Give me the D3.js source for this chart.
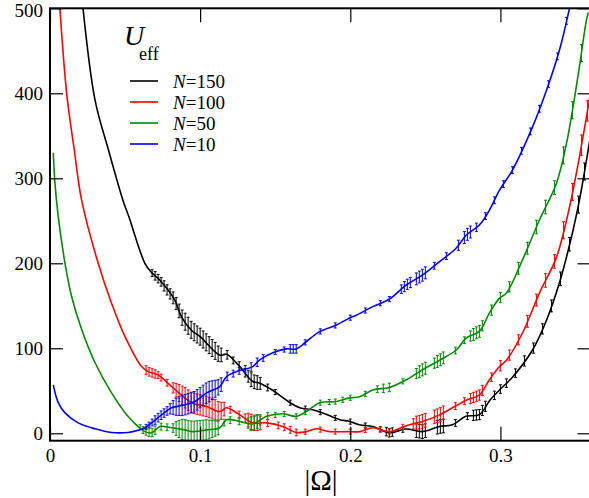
<!DOCTYPE html>
<html><head><meta charset="utf-8">
<script src="https://cdn.jsdelivr.net/npm/d3@7"></script>
<style>
body{margin:0;background:#fff}
svg{display:block}
svg text{font-family:'Liberation Serif','Tinos','Times New Roman','DejaVu Serif',serif;fill:#000}
</style>
</head><body>
<svg id="chart" width="589" height="498"></svg>
<script>
// ---------- data ----------
const seriesLabels = ["150", "100", "50", "10"];
const seriesColors = ["#000000", "#ff0000", "#008b00", "#0000ff"];

const omega150 = [0.022,0.030,0.039,0.0486,0.0525,0.0632,0.0677,0.0732,0.083,0.0876,0.0943,0.0998,0.113,0.1176,0.1264,0.135,0.1397,0.148,0.16,0.1663,0.175,0.1816,0.193,0.1996,0.206,0.215,0.226,0.237,0.248,0.2595,0.268,0.277,0.286,0.293,0.2994,0.308,0.3214,0.3307,0.3393,0.348,0.3526,0.3573,0.36];
const u150     = [500,392,333,274,255,200,189,180,157,137,121,114,92,93,78.5,61,59,51,36,30,27.6,24,16,14,10,8,0.6,5,2,8,10,20,22,39,51,66,98,133,177,236,274,321,350];

const omega100 = [0.0066,0.0111,0.0162,0.0211,0.0321,0.041,0.0499,0.061,0.0654,0.0719,0.081,0.0876,0.0943,0.1043,0.1131,0.1176,0.1264,0.135,0.1442,0.155,0.164,0.1708,0.1774,0.1863,0.1974,0.2063,0.215,0.2262,0.2373,0.248,0.2595,0.268,0.2772,0.286,0.2927,0.2994,0.304,0.3147,0.326,0.3373,0.346,0.3526,0.3573,0.36];
const u100     = [500,400,333,274,200,153,114,78.5,72.6,68.7,55,45,36,31.5,25.6,30,21.7,12.3,12.3,8,1,2,5.3,2,2,2,6.5,2,9,14,21.7,30,39,45,63,78.5,86,118,165,207,266,325,372,400];

const omega50 = [0.0022,0.0033,0.0055,0.010,0.0144,0.0211,0.030,0.041,0.0521,0.0632,0.0677,0.0732,0.081,0.0898,0.0951,0.1043,0.1131,0.1176,0.1264,0.135,0.1442,0.155,0.164,0.1708,0.1796,0.1908,0.1996,0.2063,0.215,0.2262,0.2373,0.248,0.2595,0.2706,0.2772,0.286,0.2927,0.2994,0.304,0.3147,0.326,0.3373,0.344,0.348,0.3526,0.3573,0.3586];
const u50     = [330,294,255,200,161,122,83,47.6,19.7,2,0.6,8,6.5,4,2,4,6.5,16,14,11,20,23,20,25.6,36,37.4,41.7,43,51,54,63,74.6,86,98,112,120,141.6,159,165,204,251,294,341,380,431,486,495];

const omega10 = [0.0022,0.0055,0.010,0.0188,0.030,0.041,0.0521,0.0587,0.0632,0.0677,0.0743,0.081,0.0898,0.0965,0.1043,0.1131,0.1176,0.1264,0.135,0.1397,0.148,0.1575,0.1641,0.1708,0.1796,0.1908,0.1996,0.204,0.215,0.2262,0.2373,0.248,0.2595,0.2706,0.2772,0.286,0.2927,0.2994,0.308,0.3214,0.3307,0.3393,0.346];
const u10     = [57,36,24,12.3,5.3,1,1,3.5,6.5,12.3,21.7,30,33.5,37.4,47.6,55,66.7,73.8,78.5,86.4,94.6,99.3,99.3,108,119.6,127.5,135.7,139,149,158,174.5,186,202,218,233,245,262.6,286,309.6,360.5,403.6,450.6,500];

// error bars: positions (|Omega|) and half-heights
const errOmega150 = [0.068,0.070,0.072,0.074,0.076,0.078,0.080,0.082,0.084,0.086,0.088,0.090,0.092,0.094,0.096,0.098,0.100,0.102,0.104,0.106,0.108,0.110,0.112,0.114,0.118,0.122,0.126,0.130,0.132,0.134,0.136,0.138,0.140,0.145,0.150,0.160,0.170,0.180,0.190,0.200,0.210,0.220,0.224,0.226,0.228,0.235,0.244,0.246,0.248,0.250,0.258,0.260,0.262,0.270,0.278,0.282,0.284,0.286,0.288,0.290,0.296,0.300,0.304,0.310,0.316,0.322,0.328,0.334,0.340,0.346,0.352,0.356];
const errHalf150  = [4,5,5,5,6,6,6,7,7,8,9,10,10,10,10,10,10,10,10,10,10,10,9,8,5,4,5,5,7,8,8,8,7,4,3,3,3,3,3,3,3,3,5,5,5,3,8,8,8,8,8,8,8,4,4,6,6,6,6,6,5,5,5,5,6,6,6,7,8,8,10,10];

const errOmega100 = [0.064,0.066,0.068,0.070,0.072,0.074,0.078,0.082,0.084,0.086,0.088,0.090,0.092,0.094,0.096,0.098,0.100,0.102,0.104,0.106,0.108,0.110,0.112,0.114,0.116,0.120,0.126,0.130,0.132,0.134,0.136,0.138,0.140,0.145,0.152,0.156,0.160,0.164,0.170,0.180,0.190,0.200,0.210,0.220,0.226,0.235,0.242,0.244,0.246,0.248,0.250,0.256,0.258,0.260,0.262,0.270,0.276,0.280,0.282,0.284,0.286,0.288,0.294,0.300,0.306,0.312,0.318,0.324,0.330,0.336,0.342,0.348,0.354,0.358];
const errHalf100  = [5,5,5,5,4,4,4,6,8,10,11,12,12,12,12,12,12,12,12,12,12,12,11,10,8,4,4,5,8,9,9,9,8,4,4,4,4,4,3,3,3,3,3,3,3,3,6,8,8,8,8,8,8,8,8,4,4,6,6,6,6,6,5,6,6,6,7,7,8,8,10,10,12,12];

const errOmega50 = [0.060,0.062,0.064,0.066,0.068,0.070,0.074,0.078,0.082,0.084,0.086,0.088,0.090,0.092,0.094,0.096,0.098,0.100,0.102,0.104,0.106,0.108,0.110,0.112,0.116,0.120,0.126,0.132,0.134,0.136,0.138,0.140,0.145,0.150,0.156,0.164,0.170,0.180,0.186,0.190,0.195,0.200,0.210,0.218,0.222,0.226,0.235,0.244,0.246,0.248,0.250,0.256,0.258,0.260,0.262,0.270,0.276,0.280,0.282,0.284,0.286,0.288,0.294,0.300,0.306,0.312,0.318,0.324,0.330,0.336,0.342,0.348,0.354];
const errHalf50  = [3,4,4,5,5,5,4,4,5,8,10,12,12,12,12,12,12,12,12,12,11,10,9,8,4,4,4,6,8,8,8,6,4,3,3,3,3,3,3,3,3,3,3,4,5,5,3,6,7,7,7,6,7,7,7,4,4,6,7,7,7,6,6,6,6,7,7,8,8,8,10,10,10];

const errOmega10 = [0.064,0.066,0.068,0.070,0.072,0.074,0.076,0.078,0.080,0.082,0.084,0.086,0.088,0.090,0.092,0.094,0.096,0.098,0.100,0.102,0.104,0.106,0.108,0.110,0.112,0.114,0.118,0.122,0.126,0.130,0.134,0.138,0.142,0.150,0.156,0.160,0.162,0.164,0.170,0.180,0.190,0.200,0.210,0.220,0.226,0.234,0.236,0.238,0.240,0.244,0.246,0.248,0.250,0.256,0.264,0.272,0.276,0.278,0.280,0.284,0.290,0.296,0.302,0.308,0.314,0.320,0.326,0.332,0.338,0.344];
const errHalf10  = [3,3,4,5,5,5,5,5,6,8,10,11,12,12,12,12,12,12,12,12,12,12,11,10,9,8,5,4,4,4,5,5,4,3,3,5,5,5,3,3,3,3,3,3,3,5,6,6,6,7,7,7,7,4,4,6,7,7,7,5,4,4,4,4,4,4,4,4,4,4];

const xTicks = [0, 0.1, 0.2, 0.3];
const yTicks = [0, 100, 200, 300, 400, 500];

// ---------- layout ----------
const FONT = "'Liberation Serif','Tinos','Times New Roman','DejaVu Serif',serif";
const svg = d3.select("#chart");
const L = 50, R = 590.5, T = 8.3, B = 440.7;
const x = d3.scaleLinear().domain([0, 0.36]).range([L, R]);
const y = d3.scaleLinear().domain([-8.7, 500]).range([B, T]);

svg.append("defs").append("clipPath").attr("id", "clip")
  .append("rect").attr("x", L).attr("y", T).attr("width", R - L).attr("height", B - T);

const series = [
  {o: omega150, u: u150, eo: errOmega150, eh: errHalf150},
  {o: omega100, u: u100, eo: errOmega100, eh: errHalf100},
  {o: omega50,  u: u50,  eo: errOmega50,  eh: errHalf50},
  {o: omega10,  u: u10,  eo: errOmega10,  eh: errHalf10}
];

const plot = svg.append("g").attr("clip-path", "url(#clip)");
const line = d3.line().x(d => x(d[0])).y(d => y(d[1])).curve(d3.curveCatmullRom.alpha(0.5));

series.forEach((s, i) => {
  const pts = s.o.map((o, k) => [o, s.u[k]]);
  const interp = d3.scaleLinear().domain(s.o).range(s.u);
  const bars = s.eo.map((o, k) => ({o: o, c: interp(o), h: s.eh[k]}));
  const g = plot.append("g").attr("stroke", seriesColors[i]).attr("fill", "none");
  g.selectAll("path.eb").data(bars).enter().append("path")
    .attr("class", "eb")
    .attr("stroke-width", 1)
    .attr("d", d => {
      const xx = x(d.o), y1 = y(d.c + d.h), y2 = y(d.c - d.h);
      return `M${xx},${y1}V${y2}M${xx-1.5},${y1}H${xx+1.5}M${xx-1.5},${y2}H${xx+1.5}`;
    });
  g.append("path").datum(pts).attr("stroke-width", 1.6).attr("d", line);
});

// ---------- axes ----------
const fmt = d => d === 0 ? "0" : d3.format(".1f")(d);
const axB = svg.append("g").attr("transform", `translate(0,${B})`)
  .call(d3.axisBottom(x).tickValues(xTicks).tickSize(-14).tickPadding(8).tickFormat(fmt));
const axT = svg.append("g").attr("transform", `translate(0,${T})`)
  .call(d3.axisTop(x).tickValues(xTicks).tickSize(-14).tickFormat(""));
const axL = svg.append("g").attr("transform", `translate(${L},0)`)
  .call(d3.axisLeft(y).tickValues(yTicks).tickSize(-13).tickPadding(7).tickFormat(d3.format("d")));
const axR = svg.append("g").attr("transform", `translate(${R},0)`)
  .call(d3.axisRight(y).tickValues(yTicks).tickSize(-13).tickFormat(""));
[axB, axT, axL, axR].forEach(a => {
  a.attr("font-family", FONT);
  a.select(".domain").remove();
  a.selectAll("line").attr("stroke", "#000").attr("stroke-width", 1.2);
  a.selectAll("text").style("font-family", FONT).attr("font-size", 19).attr("fill", "#000");
});
// top label sits slightly lower in the reference
axL.selectAll(".tick").filter(d => d === 500).select("text").attr("dy", "0.45em");

svg.append("rect").attr("x", L).attr("y", T).attr("width", R - L).attr("height", B - T)
  .attr("fill", "none").attr("stroke", "#000").attr("stroke-width", 2);

// axis title
svg.append("text").attr("x", 321).attr("y", 490).attr("text-anchor", "middle")
  .style("font-family", FONT).attr("font-size", 29).text("|Ω|");

// U_eff label
const ut = svg.append("text").attr("x", 124).attr("y", 45).style("font-family", FONT);
ut.append("tspan").attr("font-size", 28).attr("font-style", "italic").text("U");
ut.append("tspan").attr("font-size", 18).attr("x", 139).attr("y", 60).text("eff");

// legend
const leg = svg.append("g");
seriesLabels.forEach((lab, i) => {
  const yy = 81 + i * 21;
  leg.append("line").attr("x1", 130).attr("x2", 158).attr("y1", yy).attr("y2", yy)
    .attr("stroke", seriesColors[i]).attr("stroke-width", 1.6);
  const t = leg.append("text").attr("x", 173).attr("y", yy + 6.5).attr("font-size", 19)
    .style("font-family", FONT);
  t.append("tspan").attr("font-style", "italic").text("N");
  t.append("tspan").text("=" + lab);
});
</script>
</body></html>
